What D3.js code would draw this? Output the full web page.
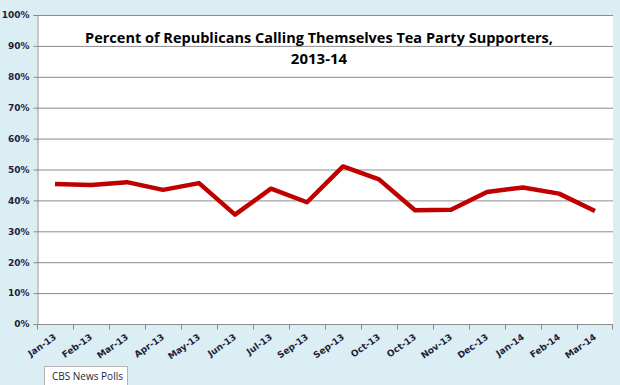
<!DOCTYPE html>
<meta charset="utf-8">
<script src="https://d3js.org/d3.v7.min.js"></script>
<style>
  body { margin: 0; background: #dbeef4; }
</style>
<div id="my_dataviz"></div>
<script>

// data
var months = ["Jan-13", "Feb-13", "Mar-13", "Apr-13", "May-13", "Jun-13", "Jul-13", "Sep-13",
              "Sep-13", "Oct-13", "Oct-13", "Nov-13", "Dec-13", "Jan-14", "Feb-14", "Mar-14"];
var teaParty = [45.3, 45.0, 45.9, 43.4, 45.6, 35.4, 43.8, 39.4,
                51.0, 46.8, 36.8, 37.0, 42.7, 44.2, 42.2, 36.6];
var yTicks = [0, 10, 20, 30, 40, 50, 60, 70, 80, 90, 100];

var margin = {top: 15, right: 7, bottom: 61, left: 37},
    width = 620 - margin.left - margin.right,
    height = 385 - margin.top - margin.bottom;

var root = d3.select("#my_dataviz")
  .append("svg")
    .attr("width", 620)
    .attr("height", 385)
    .style("display", "block");

root.append("rect")
  .attr("width", 620).attr("height", 385)
  .attr("fill", "#dbeef4");

var svg = root.append("g")
    .attr("transform", "translate(" + margin.left + "," + margin.top + ")");

// plot area
svg.append("rect")
  .attr("width", width).attr("height", height)
  .attr("fill", "white");

// X: one band per poll (labels repeat, so key on index)
var x = d3.scaleBand()
  .domain(d3.range(months.length))
  .range([0, width]);

var y = d3.scaleLinear()
  .domain([0, 100])
  .range([height, 0]);

// gridlines
svg.append("g")
  .selectAll("line")
  .data(yTicks.slice(1))
  .enter()
  .append("line")
    .attr("x1", 0).attr("x2", width)
    .attr("y1", function(d) { return y(d) + 0.5; })
    .attr("y2", function(d) { return y(d) + 0.5; })
    .attr("stroke", "#8c8c8c")
    .attr("stroke-width", 1);

// Y axis
var yAxis = svg.append("g")
  .attr("transform", "translate(0.5,0)")
  .call(d3.axisLeft(y).tickValues(yTicks).tickSize(4).tickFormat(function(d) { return d + "%"; }));
yAxis.select(".domain").attr("stroke", "#8c8c8c");
yAxis.selectAll(".tick line").attr("stroke", "#8c8c8c");
yAxis.selectAll(".tick text")
  .attr("x", -8)
  .style("font", "bold 9px 'DejaVu Sans'")
  .attr("fill", "#1e1e3c");

// X axis: ticks on band edges
var xAxis = svg.append("g")
  .attr("transform", "translate(0," + (height + 0.5) + ")");
xAxis.append("line")
  .attr("x1", 0).attr("x2", width)
  .attr("stroke", "#8c8c8c");
xAxis.selectAll(".edge")
  .data(d3.range(months.length + 1))
  .enter()
  .append("line")
    .attr("class", "edge")
    .attr("x1", function(i) { return i < months.length ? x(i) + 0.5 : width - 0.5; })
    .attr("x2", function(i) { return i < months.length ? x(i) + 0.5 : width - 0.5; })
    .attr("y1", 0).attr("y2", 5)
    .attr("stroke", "#8c8c8c");
xAxis.selectAll(".lbl")
  .data(months)
  .enter()
  .append("text")
    .attr("class", "lbl")
    .attr("transform", function(d, i) {
      return "translate(" + (x(i) + x.bandwidth() / 2 + 2) + ",14) rotate(-35)";
    })
    .attr("text-anchor", "end")
    .style("font", "bold 9px 'DejaVu Sans'")
    .attr("fill", "#1e1e3c")
    .text(function(d) { return d; });

// the line
svg.append("path")
  .datum(teaParty)
  .attr("fill", "none")
  .attr("stroke", "#c00000")
  .attr("stroke-width", 4.5)
  .attr("stroke-linejoin", "round")
  .attr("d", d3.line()
    .x(function(d, i) { return x(i) + x.bandwidth() / 2; })
    .y(function(d) { return y(d); })
  );

// title
root.append("text")
  .attr("x", 319).attr("y", 43)
  .attr("text-anchor", "middle")
  .style("font", "bold 14.5px 'Open Sans'")
  .attr("fill", "black")
  .text("Percent of Republicans Calling Themselves Tea Party Supporters,");
root.append("text")
  .attr("x", 319).attr("y", 64)
  .attr("text-anchor", "middle")
  .style("font", "bold 15px 'Open Sans'")
  .attr("fill", "black")
  .text("2013-14");

// source box
root.append("rect")
  .attr("x", 44.5).attr("y", 366.5)
  .attr("width", 83).attr("height", 24)
  .attr("fill", "white")
  .attr("stroke", "#b4b4b4");
root.append("text")
  .attr("x", 52).attr("y", 380)
  .style("font", "10px 'Open Sans'")
  .attr("fill", "#1e1e3c")
  .text("CBS News Polls");

</script>
